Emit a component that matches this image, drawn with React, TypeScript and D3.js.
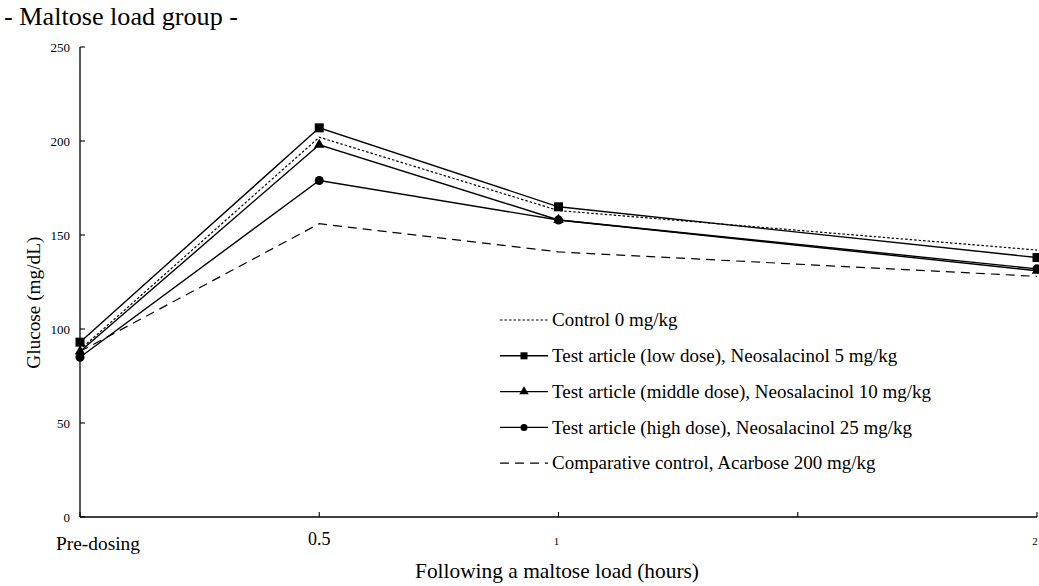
import React from "react";
import * as d3 from "d3";

const timePoints = [0, 0.5, 1, 2];
const controlVals = [89, 202, 163, 142];
const lowDoseVals = [93, 207, 165, 138];
const midDoseVals = [88, 198, 158, 131];
const highDoseVals = [85, 179, 158, 132];
const acarboseVals = [88, 156, 141, 128];

const seriesNames = [
  "Control 0 mg/kg",
  "Test article (low dose), Neosalacinol 5 mg/kg",
  "Test article (middle dose), Neosalacinol 10 mg/kg",
  "Test article (high dose), Neosalacinol 25 mg/kg",
  "Comparative control, Acarbose 200 mg/kg",
];
const yTicks = [0, 50, 100, 150, 200, 250];
const xTickVals = [0, 0.5, 1, 1.5, 2];

type S = { name: string; vals: number[]; dash: string; marker: string; width: number };

const series: S[] = [
  { name: seriesNames[0], vals: controlVals, dash: "2.5,2", marker: "none", width: 1.2 },
  { name: seriesNames[1], vals: lowDoseVals, dash: "", marker: "square", width: 1.4 },
  { name: seriesNames[2], vals: midDoseVals, dash: "", marker: "triangle", width: 1.4 },
  { name: seriesNames[3], vals: highDoseVals, dash: "", marker: "circle", width: 1.4 },
  { name: seriesNames[4], vals: acarboseVals, dash: "9,6", marker: "none", width: 1.2 },
];

const font = "Liberation Serif, Tinos, Times New Roman, DejaVu Serif, serif";

function Marker({ type, x, y, size }: { type: string; x: number; y: number; size: number }) {
  if (type === "square")
    return <rect x={x - size / 2} y={y - size / 2} width={size} height={size} fill="#000" />;
  if (type === "circle") return <circle cx={x} cy={y} r={size / 2} fill="#000" />;
  if (type === "triangle") {
    const p = d3.symbol(d3.symbolTriangle, size * size * 0.6)();
    return <path d={p || ""} transform={`translate(${x},${y})`} fill="#000" />;
  }
  return null;
}

export default function App() {
  const W = 1039;
  const H = 586;
  const x = d3.scaleLinear().domain([0, 2]).range([80, 1037]);
  const y = d3.scaleLinear().domain([0, 250]).range([517, 47]);
  const line = d3
    .line<number>()
    .x((_, i) => x(timePoints[i]))
    .y((d) => y(d));

  const legendX = 500;
  const legendY0 = 320;
  const legendDy = 35.8;

  return (
    <svg
      width={W}
      height={H}
      style={{ position: "absolute", left: 0, top: 0, background: "#fff", fontFamily: font }}
    >
      <rect width={W} height={H} fill="#fff" />
      <text x={4} y={25} fontSize={25} fill="#000" textLength={234} lengthAdjust="spacingAndGlyphs">
        - Maltose load group -
      </text>
      {/* axes */}
      <line x1={x(0)} x2={x(0)} y1={y(250)} y2={y(0)} stroke="#000" strokeWidth={1.3} />
      <line x1={x(0)} x2={x(2)} y1={y(0)} y2={y(0)} stroke="#000" strokeWidth={1.3} />
      {yTicks.map((t) => (
        <g key={t}>
          <line x1={x(0)} x2={x(0) + 5} y1={y(t)} y2={y(t)} stroke="#000" strokeWidth={1.1} />
          <text x={70} y={y(t)} dy="0.35em" fontSize={13} textAnchor="end" fill="#000">
            {t}
          </text>
        </g>
      ))}
      {xTickVals.map((t) => (
        <line key={t} x1={x(t)} x2={x(t)} y1={y(0)} y2={y(0) - 5} stroke="#000" strokeWidth={1.1} />
      ))}
      <text x={56} y={550} fontSize={19} fill="#000" textLength={84} lengthAdjust="spacingAndGlyphs">
        Pre-dosing
      </text>
      <text x={x(0.5)} y={545} fontSize={18} textAnchor="middle" fill="#000">
        0.5
      </text>
      <text x={x(1) - 2} y={545} fontSize={11} textAnchor="middle" fill="#000">
        1
      </text>
      <text x={x(2) - 2} y={545} fontSize={11} textAnchor="middle" fill="#000">
        2
      </text>
      <text x={557} y={578} fontSize={21} textAnchor="middle" fill="#000" textLength={284} lengthAdjust="spacingAndGlyphs">
        Following a maltose load (hours)
      </text>
      <text
        transform={`translate(40,${y(114)}) rotate(-90)`}
        fontSize={18}
        textAnchor="middle"
        fill="#000"
        textLength={132}
        lengthAdjust="spacingAndGlyphs"
      >
        Glucose (mg/dL)
      </text>
      {/* series */}
      {series.map((s) => (
        <g key={s.name}>
          <path
            d={line(s.vals) || ""}
            fill="none"
            stroke="#000"
            strokeWidth={s.width}
            strokeDasharray={s.dash || undefined}
          />
          {s.vals.map((v, i) => (
            <Marker key={i} type={s.marker} x={x(timePoints[i])} y={y(v)} size={9} />
          ))}
        </g>
      ))}
      {/* legend */}
      {series.map((s, i) => {
        const ly = legendY0 + i * legendDy;
        return (
          <g key={s.name}>
            <line
              x1={legendX}
              x2={legendX + 48}
              y1={ly}
              y2={ly}
              stroke="#000"
              strokeWidth={s.width}
              strokeDasharray={s.dash || undefined}
            />
            <Marker type={s.marker} x={legendX + 24} y={ly} size={s.marker === "triangle" ? 8 : 7} />
            <text x={legendX + 52} y={ly} dy="0.33em" fontSize={19} fill="#000">
              {s.name}
            </text>
          </g>
        );
      })}
    </svg>
  );
}
